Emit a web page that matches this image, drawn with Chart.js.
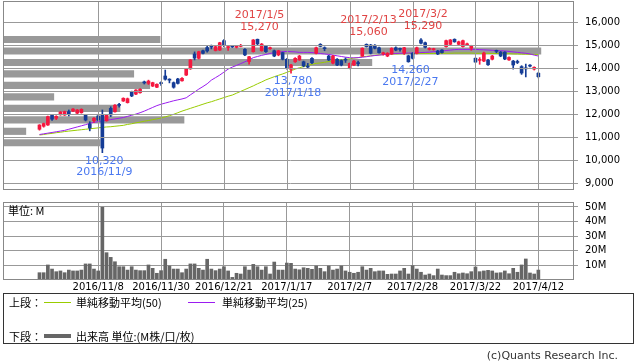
<!DOCTYPE html>
<html lang="ja">
<head>
<meta charset="utf-8">
<script src="https://cdn.jsdelivr.net/npm/chart.js@4.4.1/dist/chart.umd.min.js"></script>
<style>
  body { margin: 0; background: #fff; width: 638px; height: 362px; overflow: hidden; position: relative;
         font-family: "Noto Sans CJK JP", "DejaVu Sans", sans-serif; color: #000; }
  #price { position: absolute; left: 0; top: 0; }
  #vol { position: absolute; left: 0; top: 196px; }
  .unit { position: absolute; left: 8px; top: 203px; font-size: 11px; line-height: 14px; }
  .legend { position: absolute; left: 3px; top: 293px; width: 629px; height: 49px; border: 1px solid #333; font-size: 11px; }
  .legend span { position: absolute; line-height: 14px; white-space: nowrap; }
  .legend i { position: absolute; display: block; }
  .copy { position: absolute; right: 20px; top: 349px; font-size: 11px; line-height: 14px; color: #333; font-family: "DejaVu Sans", sans-serif; }
</style>
</head>
<body>
<canvas id="price" width="638" height="196"></canvas>
<canvas id="vol" width="638" height="100"></canvas>
<div class="unit">単位: M</div>
<div class="legend">
  <span style="left:5px; top:1px">上段：</span>
  <i style="left:40px; top:8px; width:27px; height:1px; background:#99cc00"></i>
  <span style="left:72px; top:1px">単純移動平均(50)</span>
  <i style="left:184px; top:8px; width:27px; height:1px; background:#9b1cf0"></i>
  <span style="left:218px; top:1px">単純移動平均(25)</span>
  <span style="left:5px; top:35px">下段：</span>
  <i style="left:40px; top:40px; width:27px; height:4px; background:#666"></i>
  <span style="left:72px; top:35px">出来高 単位:(M株/口/枚)</span>
</div>
<div class="copy">(c)Quants Research Inc.</div>
<script>
// trading days shown
const dates = [
  '2016/10/18','2016/10/19','2016/10/20','2016/10/21','2016/10/24','2016/10/25','2016/10/26','2016/10/27','2016/10/28','2016/10/31',
  '2016/11/1','2016/11/2','2016/11/4','2016/11/7','2016/11/8','2016/11/9','2016/11/10','2016/11/11','2016/11/14','2016/11/15',
  '2016/11/16','2016/11/17','2016/11/18','2016/11/21','2016/11/22','2016/11/24','2016/11/25','2016/11/28','2016/11/29','2016/11/30',
  '2016/12/1','2016/12/2','2016/12/5','2016/12/6','2016/12/7','2016/12/8','2016/12/9','2016/12/12','2016/12/13','2016/12/14',
  '2016/12/15','2016/12/16','2016/12/19','2016/12/20','2016/12/21','2016/12/22','2016/12/26','2016/12/27','2016/12/28','2016/12/29',
  '2016/12/30','2017/1/4','2017/1/5','2017/1/6','2017/1/10','2017/1/11','2017/1/12','2017/1/13','2017/1/16','2017/1/17',
  '2017/1/18','2017/1/19','2017/1/20','2017/1/23','2017/1/24','2017/1/25','2017/1/26','2017/1/27','2017/1/30','2017/1/31',
  '2017/2/1','2017/2/2','2017/2/3','2017/2/6','2017/2/7','2017/2/8','2017/2/9','2017/2/10','2017/2/13','2017/2/14',
  '2017/2/15','2017/2/16','2017/2/17','2017/2/20','2017/2/21','2017/2/22','2017/2/23','2017/2/24','2017/2/27','2017/2/28',
  '2017/3/1','2017/3/2','2017/3/3','2017/3/6','2017/3/7','2017/3/8','2017/3/9','2017/3/10','2017/3/13','2017/3/14',
  '2017/3/15','2017/3/16','2017/3/17','2017/3/21','2017/3/22','2017/3/23','2017/3/24','2017/3/27','2017/3/28','2017/3/29',
  '2017/3/30','2017/3/31','2017/4/3','2017/4/4','2017/4/5','2017/4/6','2017/4/7','2017/4/10','2017/4/11','2017/4/12'
];

const opens = [
  11340,11470,11525,11960,11820,11970,11960,12110,12130,12040, 12060,11960,11570,11710,11920,11960,11710,12250,12100,12410,
  12570,12500,12980,12870,12930,13380,13340,13220,13170,13360, 13660,13500,13370,13530,13450,13700,13970,14620,14430,14760,
  14900,14950,14770,14790,15200,14900,14960,14910,14950,14820, 14290,14720,15260,14760,14970,14850,14760,14580,14680,14390,
  13950,14280,14360,14280,14080,14430,14650,15040,14880,14530, 14220,14390,14330,14370,14000,14140,14230,14530,15040,15010,
  15000,14890,14630,14530,14620,14890,14840,14660,14540,14650, 14650,15230,15110,14820,14810,14750,14790,14940,15040,15260,
  15040,14940,15020,14870,14430,14340,14310,14360,14390,14760, 14700,14700,14360,14310,14280,14070,14000,14110,13960,13780
];
const highs = [
  11540,11610,11910,11990,11930,12110,12130,12180,12240,12200, 12230,11990,11670,11850,11950,12180,11990,12320,12420,12470,
  12710,12700,13000,13070,13110,13440,13480,13390,13320,13410, 13920,13540,13400,13560,13590,13980,14380,14710,14740,14790,
  15000,15010,14960,15130,15250,14970,14990,14990,15040,14850, 14520,15250,15270,15080,15000,14920,14790,14780,14700,14420,
  14170,14460,14560,14310,14210,14460,14920,15070,14930,14560, 14560,14420,14360,14450,14230,14340,14310,14890,15060,15040,
  15030,14920,14700,14680,14890,14930,14880,14910,14570,14680, 14920,15290,15140,14890,14870,14780,14810,15220,15250,15280,
  15180,15220,15090,15000,14460,14460,14700,14390,14560,14790, 14730,14720,14500,14340,14350,14110,14180,14160,14060,13820
];
const lows = [
  11300,11430,11510,11730,11760,11950,11940,11920,12110,12020, 12040,11700,11270,11640,11710,10320,11690,11890,12080,12300,
  12550,12480,12760,12850,12910,13310,13290,13200,13150,13250, 13480,13360,13130,13310,13430,13680,13950,14360,14400,14620,
  14700,14840,14750,14770,14940,14780,14900,14880,14930,14550, 14180,14700,15020,14740,14690,14820,14500,14540,14360,13960,
  13780,14250,14340,14060,14000,14200,14620,14930,14760,14330, 14190,14110,14100,14250,13970,14110,14100,14510,14920,14620,
  14840,14650,14570,14500,14600,14760,14740,14600,14260,14400, 14620,15060,14880,14790,14780,14590,14650,14920,15020,15130,
  15010,14920,14990,14780,14240,14170,14280,14120,14360,14670, 14500,14370,14340,13960,14200,13730,13620,14060,13920,13580
];
const closes = [
  11525,11590,11890,11780,11900,12090,12110,12000,12220,12180, 12210,11740,11390,11820,11740,10520,11960,11960,12390,12380,
  12690,12670,12790,13050,13080,13360,13440,13370,13300,13330, 13520,13480,13170,13340,13560,13950,14360,14440,14720,14650,
  14750,14920,14940,15110,15010,14940,14930,14950,14990,14580, 14500,15230,15060,15050,14720,14880,14530,14760,14390,13990,
  14140,14430,14530,14100,14050,14240,14890,14950,14850,14360, 14530,14140,14140,14350,14210,14310,14200,14870,14940,14650,
  14870,14680,14660,14650,14870,14790,14820,14890,14280,14430, 14890,15090,14910,14860,14840,14620,14680,15200,15230,15150,
  15150,15200,15060,14970,14270,14370,14660,14150,14530,14730, 14530,14400,14470,14140,14250,13790,13970,14090,14040,13630
];

// volume, million shares
const volumes = [
  5.0,5.0,10.3,7.5,5.7,6.2,5.0,6.8,6.2,6.2, 6.8,11.0,11.0,7.5,6.2,49.8,18.7,15.5,12.5,9.1,
  9.1,6.8,9.1,6.8,6.4,6.4,10.3,8.0,4.6,6.4, 14.2,9.6,7.5,7.5,5.0,7.5,11.0,11.0,8.0,6.8,
  14.2,7.5,6.4,7.5,9.1,6.2,1.8,4.6,4.1,9.1, 6.8,10.7,9.1,6.8,9.1,4.1,12.3,6.8,6.8,11.6,
  11.4,7.5,7.0,8.4,8.0,7.3,9.6,8.0,5.7,9.6, 6.8,7.5,9.6,6.2,5.3,4.6,5.3,9.1,6.8,8.0,
  5.7,6.2,6.2,3.9,4.1,4.1,6.2,8.0,4.1,9.8, 7.5,5.3,3.4,4.1,3.0,7.5,3.4,3.0,3.0,5.3,
  4.3,4.8,4.3,5.7,8.9,5.7,6.2,6.6,6.2,4.8, 5.0,6.2,4.3,8.0,5.3,10.3,14.4,4.8,4.1,6.8
];

// simple moving averages
const ma25 = [
  11110,11140,11170,11200,11230,11260,11290,11340,11390,11440, 11490,11540,11600,11640,11670,11700,11730,11760,11790,11820,
  11850,11900,11950,12000,12060,12130,12210,12290,12370,12430, 12480,12530,12580,12620,12660,12710,12840,12960,13090,13200,
  13320,13480,13590,13700,13830,13960,14050,14120,14200,14280, 14360,14460,14510,14560,14600,14640,14680,14700,14720,14730,
  14720,14710,14690,14690,14690,14680,14660,14640,14620,14600, 14570,14540,14510,14480,14460,14450,14460,14480,14500,14530,
  14550,14570,14590,14610,14630,14640,14650,14650,14660,14660, 14670,14680,14690,14700,14720,14730,14750,14770,14790,14810,
  14820,14820,14820,14820,14820,14810,14800,14790,14780,14770, 14760,14750,14730,14710,14690,14670,14650,14620,14570,14530
];
const ma50 = [
  11090,11110,11140,11160,11190,11210,11240,11260,11280,11300, 11320,11340,11360,11380,11400,11420,11440,11450,11470,11490,
  11510,11550,11580,11620,11650,11690,11720,11760,11790,11830, 11880,11930,11990,12060,12130,12190,12250,12310,12370,12430,
  12490,12540,12600,12660,12720,12780,12830,12910,12990,13070, 13150,13230,13320,13400,13490,13560,13630,13690,13750,13820,
  13890,13960,14020,14070,14120,14170,14210,14230,14260,14290, 14310,14330,14360,14380,14410,14440,14460,14500,14520,14540,
  14560,14580,14590,14610,14620,14620,14630,14630,14640,14640, 14640,14640,14640,14640,14640,14640,14650,14650,14650,14660,
  14660,14660,14660,14660,14650,14650,14650,14650,14640,14640, 14640,14630,14630,14620,14620,14610,14610,14600,14600,14590
];

// volume by price band (left gray bars), relative
const vbpPrices = [15250,14750,14250,13750,13250,12750,12250,11750,11250,10750];
const vbpVolumes = [27.5,94.2,64.6,22.9,25.7,8.9,20.5,31.7,4.0,17.0];

const priceTicks = [9000,10000,11000,12000,13000,14000,15000,16000];
const volTicks = [10,20,30,40,50];
const gridIdx = [14,29,44,59,74,89,104,119];

const marks = [
  { date: '2016/11/9', kind: 'low' },
  { date: '2017/1/5', kind: 'high' },
  { date: '2017/1/18', kind: 'low' },
  { date: '2017/2/13', kind: 'high' },
  { date: '2017/2/27', kind: 'low' },
  { date: '2017/3/2', kind: 'high' }
];

const UP = '#f5173f', DOWN = '#153c96';
const candleColor = dates.map((d, i) => closes[i] >= opens[i] ? UP : DOWN);
const X_MIN = -8.7, X_MAX = 127.5;
const tickFont = { family: 'DejaVu Sans', size: 10 };

function drawPriceGrid(c) {
  const ctx = c.ctx, a = c.chartArea, xs = c.scales.x, ys = c.scales.y;
  ctx.save();
  ctx.setLineDash([]);
  ctx.globalAlpha = 1;
  ctx.globalCompositeOperation = 'source-over';
  ctx.strokeStyle = '#999999';
  ctx.lineWidth = 1;
  gridIdx.forEach(v => {
    const px = Math.round(xs.getPixelForValue(v)) + 0.5;
    ctx.beginPath();
    ctx.moveTo(px, a.top);
    ctx.lineTo(px, a.bottom);
    ctx.stroke();
  });
  priceTicks.forEach(v => {
    const py = Math.round(ys.getPixelForValue(v)) + 0.5;
    ctx.beginPath();
    ctx.moveTo(a.left, py);
    ctx.lineTo(a.right + 4, py);
    ctx.stroke();
  });
  ctx.restore();
}

const frame = {
  id: 'frame',
  afterDraw(c) {
    const a = c.chartArea, ctx = c.ctx;
    if (c.canvas.id === 'price') drawPriceGrid(c);
    ctx.save();
    ctx.strokeStyle = '#888';
    ctx.lineWidth = 1;
    ctx.strokeRect(Math.round(a.left) + 0.5, Math.round(a.top) + 0.5,
                   Math.round(a.right - a.left) - 1, Math.round(a.bottom - a.top) - 1);
    ctx.restore();
  }
};

const marker = {
  id: 'marker',
  afterDraw(c) {
    const ctx = c.ctx, xs = c.scales.x, ys = c.scales.y;
    ctx.save();
    ctx.font = '11px "DejaVu Sans"';
    ctx.textAlign = 'center';
    ctx.textBaseline = 'middle';
    marks.forEach(m => {
      const i = dates.indexOf(m.date);
      const px = xs.getPixelForValue(i) + 2;
      if (m.kind === 'high') {
        const py = ys.getPixelForValue(highs[i]);
        ctx.fillStyle = '#e04444';
        ctx.fillText(m.date, px, py - 24);
        ctx.fillText(highs[i].toLocaleString('en-US'), px, py - 12);
      } else {
        const py = ys.getPixelForValue(lows[i]);
        ctx.fillStyle = '#4a78f0';
        ctx.fillText(lows[i].toLocaleString('en-US'), px, py + 8);
        ctx.fillText(m.date, px, py + 19.5);
      }
    });
    ctx.restore();
  }
};

const xAxis = (showLabels) => ({
  type: 'linear', min: X_MIN, max: X_MAX, offset: false,
  afterBuildTicks: s => { s.ticks = gridIdx.map(v => ({ value: v })); },
  afterFit: s => { s.height = showLabels ? 16 : 0; s.paddingLeft = 0; s.paddingRight = 0; },
  ticks: { display: showLabels, autoSkip: false, maxRotation: 0, padding: 1, font: tickFont, color: '#000',
           callback: v => dates[v] },
  grid: { display: showLabels, color: '#999', drawTicks: false, offset: false },
  border: { display: false }
});

new Chart(document.getElementById('price'), {
  type: 'bar',
  data: {
    datasets: [
      { type: 'bar', indexAxis: 'y', xAxisID: 'xv', yAxisID: 'y',
        data: vbpPrices.map((p, k) => ({ x: vbpVolumes[k], y: p })),
        backgroundColor: '#999999', barThickness: 6.5, grouped: false, order: 5 },
      { type: 'line', xAxisID: 'x', yAxisID: 'y', data: ma50.map((v, i) => ({ x: i, y: v })),
        borderColor: '#99cc00', borderWidth: 1, pointRadius: 0, fill: false, order: 4 },
      { type: 'line', xAxisID: 'x', yAxisID: 'y', data: ma25.map((v, i) => ({ x: i, y: v })),
        borderColor: '#9b1cf0', borderWidth: 1, pointRadius: 0, fill: false, order: 3 },
      { type: 'bar', xAxisID: 'x', yAxisID: 'y', data: dates.map((d, i) => ({ x: i, y: [lows[i], highs[i]] })),
        backgroundColor: candleColor, barThickness: 1, grouped: false, order: 2 },
      { type: 'bar', xAxisID: 'x', yAxisID: 'y', data: dates.map((d, i) => ({ x: i, y: [opens[i], closes[i]] })),
        backgroundColor: candleColor, barThickness: 3, minBarLength: 1, grouped: false, order: 1 }
    ]
  },
  options: {
    responsive: false, animation: false, events: [],
    layout: { padding: { left: 3, right: 0, top: 1, bottom: 6 } },
    plugins: { legend: { display: false }, tooltip: { enabled: false } },
    scales: {
      x: xAxis(false),
      xv: { type: 'linear', axis: 'x', min: 0, max: 100, offset: false, display: false, grid: { offset: false } },
      y: {
        type: 'linear', position: 'right', min: 8693, max: 16928, offset: false,
        afterBuildTicks: s => { s.ticks = priceTicks.map(v => ({ value: v })); },
        afterFit: s => { s.width = 64; s.paddingTop = 0; s.paddingBottom = 0; },
        ticks: { font: tickFont, color: '#000', padding: 7, callback: v => v.toLocaleString('en-US') },
        grid: { display: false, offset: false, tickLength: 4 },
        border: { display: false }
      }
    }
  },
  plugins: [frame, marker]
});

new Chart(document.getElementById('vol'), {
  type: 'bar',
  data: {
    datasets: [
      { data: volumes.map((v, i) => ({ x: i, y: v })), backgroundColor: '#666666',
        barThickness: 3, grouped: false }
    ]
  },
  options: {
    responsive: false, animation: false, events: [],
    layout: { padding: { left: 3, right: 0, top: 6, bottom: 0 } },
    plugins: { legend: { display: false }, tooltip: { enabled: false } },
    scales: {
      x: xAxis(true),
      y: {
        type: 'linear', position: 'right', min: 0, max: 53.4,
        afterBuildTicks: s => { s.ticks = volTicks.map(v => ({ value: v })); },
        afterFit: s => { s.width = 64; s.paddingTop = 0; s.paddingBottom = 0; },
        ticks: { font: tickFont, color: '#000', padding: 7, callback: v => v + 'M' },
        grid: { color: '#999', tickLength: 4 },
        border: { display: false }
      }
    }
  },
  plugins: [frame]
});
</script>
</body>
</html>
